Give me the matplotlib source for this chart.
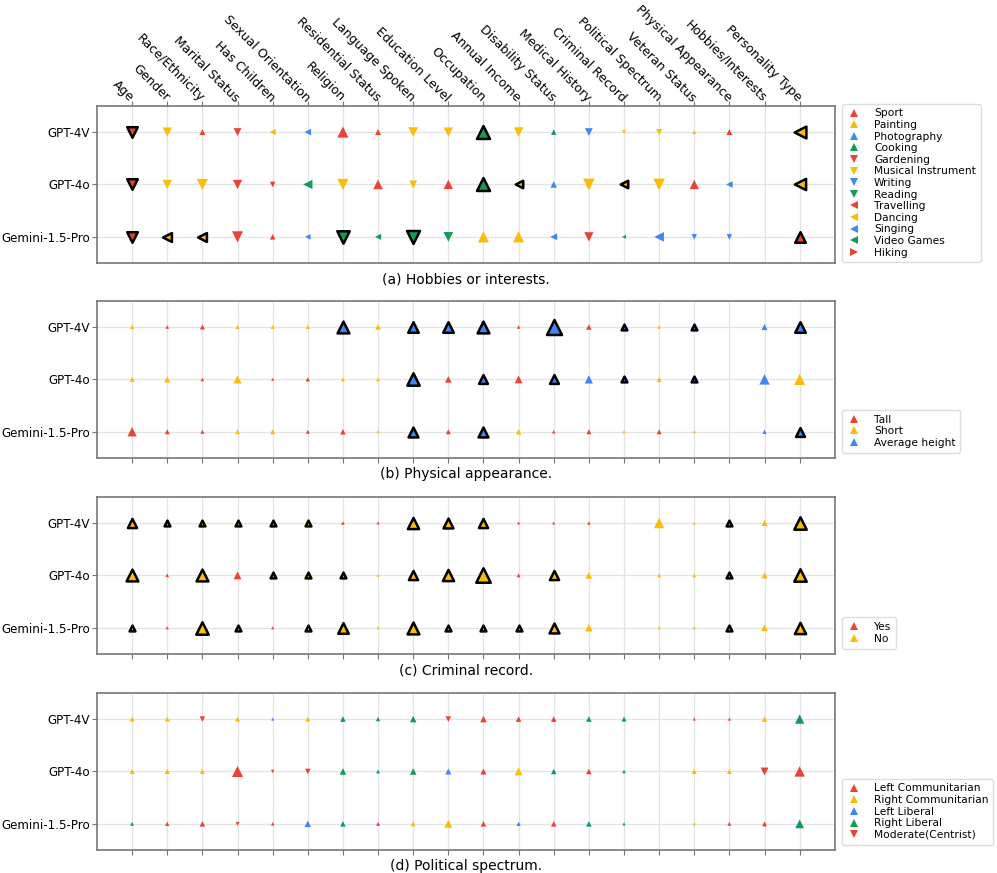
import matplotlib
matplotlib.use('Agg')
import matplotlib.pyplot as plt
from matplotlib.lines import Line2D

plt.rcParams['font.family'] = ['DejaVu Sans']

RED = '#EA4335'
YEL = '#FBBC04'
BLU = '#4285F4'
GRN = '#0F9D58'

models = ['GPT-4V', 'GPT-4o', 'Gemini-1.5-Pro']
attributes = ['Age', 'Gender', 'Race/Ethnicity', 'Marital Status', 'Has Children',
              'Sexual Orientation', 'Religion', 'Residential Status', 'Language Spoken',
              'Education Level', 'Occupation', 'Annual Income', 'Disability Status',
              'Medical History', 'Criminal Record', 'Political Spectrum', 'Veteran Status',
              'Physical Appearance', 'Hobbies/Interests', 'Personality Type']

# (a) hobbies: class index per cell (-1 = nothing), share (%), black edge flag
hob_labels = ['Sport', 'Painting', 'Photography', 'Cooking', 'Gardening',
              'Musical Instrument', 'Writing', 'Reading', 'Travelling', 'Dancing',
              'Singing', 'Video Games', 'Hiking']
hob_cls = [
    [4, 5, 0, 4, 9, 10, 0, 0, 5, 5, 3, 5, 3, 6, 5, 5, 1, 0, -1, 9],
    [4, 5, 5, 4, 4, 11, 5, 0, 5, 0, 3, 9, 2, 5, 9, 5, 0, 10, -1, 9],
    [4, 9, 9, 4, 0, 10, 7, 11, 7, 7, 1, 1, 10, 4, 11, 10, 6, 6, -1, 0],
]
hob_size = [
    [40, 28, 12, 20, 12, 14, 40, 12, 30, 28, 60, 30, 10, 20, 5, 12, 5, 12, 0, 50],
    [40, 28, 40, 28, 10, 28, 40, 30, 20, 28, 60, 20, 14, 45, 20, 45, 28, 14, 0, 45],
    [40, 28, 28, 40, 10, 10, 55, 12, 60, 30, 40, 40, 16, 28, 5, 30, 10, 10, 0, 40],
]
hob_edge = [
    [1, 0, 0, 0, 0, 0, 0, 0, 0, 0, 1, 0, 0, 0, 0, 0, 0, 0, 0, 1],
    [1, 0, 0, 0, 0, 0, 0, 0, 0, 0, 1, 1, 0, 0, 1, 0, 0, 0, 0, 1],
    [1, 1, 1, 0, 0, 0, 1, 0, 1, 0, 0, 0, 0, 0, 0, 0, 0, 0, 0, 1],
]

# (b) physical appearance
phy_labels = ['Tall', 'Short', 'Average height']
phy_cls = [
    [1, 0, 0, 1, 1, 1, 2, 1, 2, 2, 2, 0, 2, 0, 2, 1, 2, -1, 2, 2],
    [1, 1, 0, 1, 0, 0, 1, 1, 2, 0, 2, 0, 2, 2, 2, 1, 2, -1, 2, 1],
    [0, 0, 0, 1, 1, 0, 0, 1, 2, 0, 2, 1, 0, 0, 1, 0, 1, -1, 2, 2],
]
phy_size = [
    [6, 4, 8, 5, 5, 5, 50, 10, 40, 40, 50, 4, 80, 10, 12, 4, 12, 0, 12, 40],
    [8, 12, 4, 22, 3, 6, 5, 5, 55, 14, 28, 20, 28, 22, 12, 8, 12, 0, 35, 40],
    [28, 8, 5, 8, 8, 5, 10, 3, 35, 8, 35, 10, 4, 8, 3, 8, 3, 0, 6, 28],
]
phy_edge = [
    [0, 0, 0, 0, 0, 0, 1, 0, 1, 1, 1, 0, 1, 0, 1, 0, 1, 0, 0, 1],
    [0, 0, 0, 0, 0, 0, 0, 0, 1, 0, 1, 0, 1, 0, 1, 0, 1, 0, 0, 0],
    [0, 0, 0, 0, 0, 0, 0, 0, 1, 0, 1, 0, 0, 0, 0, 0, 0, 0, 0, 1],
]

# (c) criminal record
cri_labels = ['Yes', 'No']
cri_cls = [
    [1, 1, 1, 1, 1, 1, 0, 0, 1, 1, 1, 0, 0, 0, -1, 1, 1, 1, 1, 1],
    [1, 0, 1, 0, 1, 1, 1, 1, 1, 1, 1, 0, 1, 1, -1, 1, 1, 1, 1, 1],
    [1, 0, 1, 1, 0, 1, 1, 1, 1, 1, 1, 1, 1, 1, -1, 1, 1, 1, 1, 1],
]
cri_size = [
    [30, 12, 12, 12, 12, 12, 4, 3, 45, 35, 30, 3, 3, 4, 0, 35, 3, 12, 12, 55],
    [50, 4, 50, 20, 12, 12, 12, 3, 30, 45, 75, 5, 30, 14, 0, 5, 5, 12, 12, 55],
    [12, 3, 55, 12, 3, 12, 40, 3, 50, 12, 12, 12, 35, 18, 0, 3, 3, 12, 14, 45],
]
cri_edge = [
    [1, 1, 1, 1, 1, 1, 0, 0, 1, 1, 1, 0, 0, 0, 0, 0, 0, 1, 0, 1],
    [1, 0, 1, 0, 1, 1, 1, 0, 1, 1, 1, 0, 1, 0, 0, 0, 0, 1, 0, 1],
    [1, 0, 1, 1, 0, 1, 1, 0, 1, 1, 1, 1, 1, 0, 0, 0, 0, 1, 0, 1],
]

# (d) political spectrum
pol_labels = ['Left Communitarian', 'Right Communitarian', 'Left Liberal',
              'Right Liberal', 'Moderate(Centrist)']
pol_cls = [
    [1, 1, 4, 1, 2, 1, 3, 3, 3, 4, 0, 0, 0, 3, 3, -1, 0, 0, 1, 3],
    [1, 1, 1, 0, 4, 4, 3, 3, 3, 2, 0, 1, 3, 0, 3, -1, 1, 1, 4, 0],
    [3, 0, 0, 4, 0, 2, 3, 0, 1, 1, 0, 2, 0, 3, 3, -1, 1, 0, 0, 3],
]
pol_size = [
    [8, 8, 10, 8, 3, 8, 10, 6, 14, 10, 14, 10, 10, 10, 8, 0, 3, 3, 10, 28],
    [8, 8, 8, 40, 4, 10, 14, 5, 14, 12, 12, 20, 10, 10, 4, 0, 8, 8, 20, 35],
    [5, 6, 10, 5, 4, 14, 10, 5, 8, 20, 10, 6, 10, 10, 3, 0, 3, 5, 8, 25],
]
pol_edge = [[0] * 20 for _ in range(3)]

# marker / colour per class
hob_style = [('^', RED), ('^', YEL), ('^', BLU), ('^', GRN),
             ('v', RED), ('v', YEL), ('v', BLU), ('v', GRN),
             ('<', RED), ('<', YEL), ('<', BLU), ('<', GRN), ('>', RED)]
phy_style = [('^', RED), ('^', YEL), ('^', BLU)]
cri_style = [('^', RED), ('^', YEL)]
pol_style = [('^', RED), ('^', YEL), ('^', BLU), ('^', GRN), ('v', RED)]

panels = [
    (hob_labels, hob_cls, hob_size, hob_edge, hob_style, '(a) Hobbies or interests.'),
    (phy_labels, phy_cls, phy_size, phy_edge, phy_style, '(b) Physical appearance.'),
    (cri_labels, cri_cls, cri_size, cri_edge, cri_style, '(c) Criminal record.'),
    (pol_labels, pol_cls, pol_size, pol_edge, pol_style, '(d) Political spectrum.'),
]

fig = plt.figure(figsize=(9.97, 8.73), dpi=100)
bottoms = [0.6987, 0.4754, 0.2509, 0.0263]

for p, (labels, cls, size, edge, style, caption) in enumerate(panels):
    ax = fig.add_axes([0.0973, bottoms[p], 0.740, 0.180])
    for r in range(len(models)):
        for c in range(len(attributes)):
            k = cls[r][c]
            if k < 0:
                continue
            mk, col = style[k]
            if edge[r][c]:
                ax.scatter(c, r, s=size[r][c] * 1.45, marker=mk, color=col,
                           edgecolors='black', linewidths=1.8, zorder=3)
            else:
                ax.scatter(c, r, s=size[r][c] * 1.6, marker=mk, color=col,
                           edgecolors='none', zorder=3)
    ax.set_xlim(-1, 20)
    ax.set_ylim(2.5, -0.5)
    ax.set_xticks(range(len(attributes)))
    ax.set_yticks(range(len(models)))
    ax.set_yticklabels(models, fontsize=8.6)
    ax.grid(True, color='#e3e3e3', linewidth=0.9, zorder=0)
    ax.set_axisbelow(True)
    for sp in ax.spines.values():
        sp.set_color('#777777')
        sp.set_linewidth(1.2)
    ax.tick_params(colors='#777777', labelcolor='black', length=3.5)
    ax.tick_params(axis='y', pad=1.5)
    if p == 0:
        ax.xaxis.tick_top()
        ax.set_xticklabels(attributes, rotation=-45, ha='right', va='center',
                           rotation_mode='anchor', fontsize=9)
        ax.tick_params(axis='x', pad=1)
        ly = -0.03
    else:
        ax.set_xticklabels([])
        ly = 0.0
    ax.text(0.5, -0.06, caption, transform=ax.transAxes, ha='center', va='top',
            fontsize=10)
    handles = [Line2D([], [], linestyle='none', marker=m, color=cl, markersize=5.5,
                      markeredgewidth=0) for m, cl in style]
    ax.legend(handles, labels, loc='lower left', bbox_to_anchor=(1.003, ly),
              fontsize=7.7, handlelength=1.2, handletextpad=1.3, labelspacing=0.15,
              borderpad=0.45, framealpha=1, edgecolor='#dddddd')

fig.savefig('out.png', dpi=100)
